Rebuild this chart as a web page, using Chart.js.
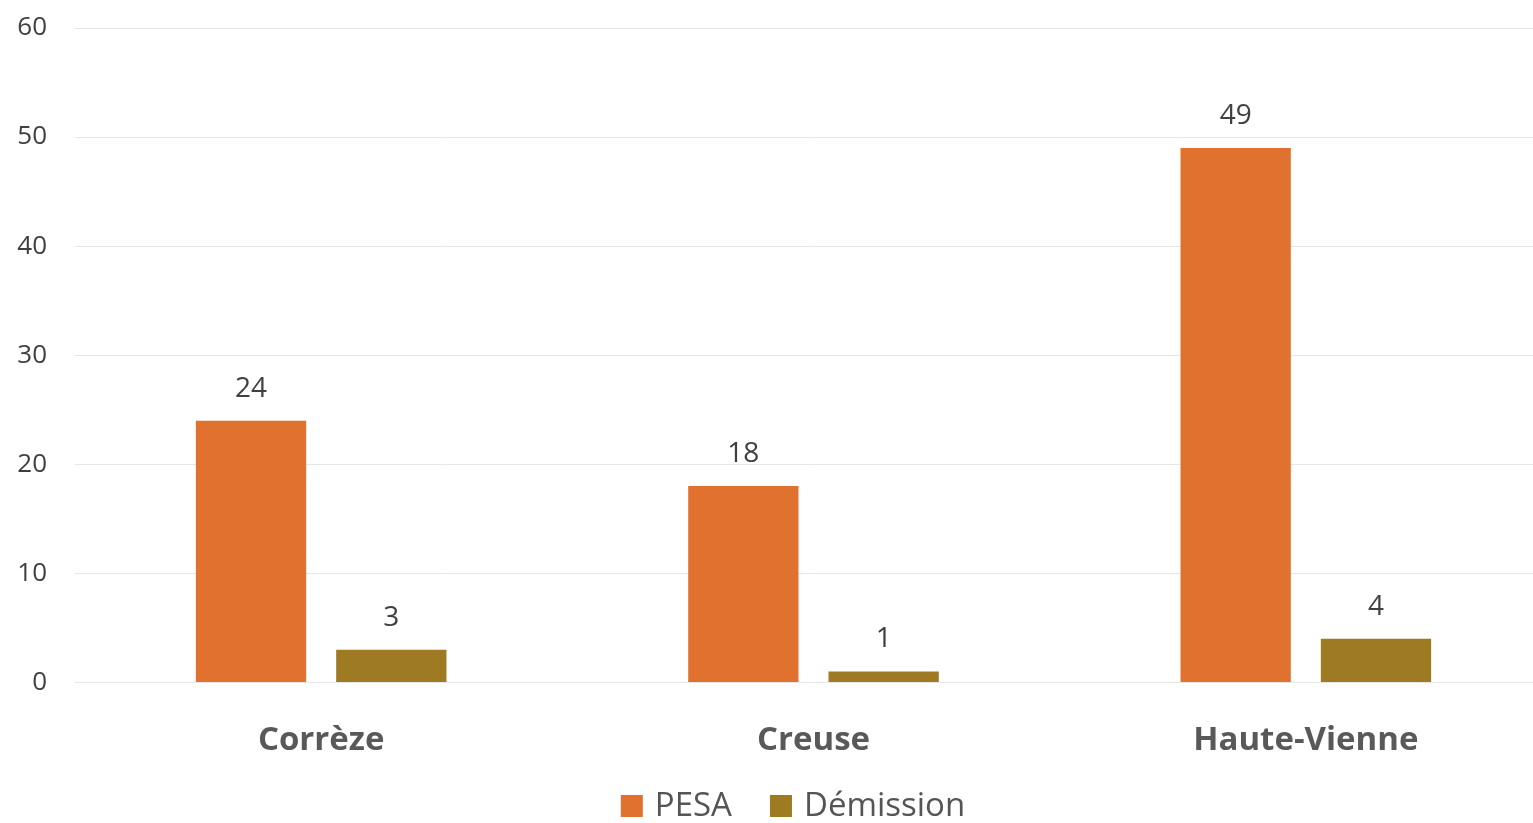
<!DOCTYPE html>
<html>
<head>
<meta charset="utf-8">
<script src="https://cdn.jsdelivr.net/npm/chart.js@4/dist/chart.umd.min.js"></script>
<style>
  html, body { margin: 0; padding: 0; background: #fff; overflow: hidden; }
  #wrap { width: 1552px; height: 823px; }
</style>
</head>
<body>
<div id="wrap"><canvas id="chart"></canvas></div>
<script>
// données
const categories = ['Corrèze', 'Creuse', 'Haute-Vienne'];
const pesaValues = [24, 18, 49];
const demissionValues = [3, 1, 4];
const yTicks = [0, 10, 20, 30, 40, 50, 60];

const FONT = "'Open Sans', 'Noto Sans', sans-serif";

// étiquettes de valeur au-dessus des barres
const valueLabels = {
    id: 'valueLabels',
    afterDatasetsDraw(chart) {
        const ctx = chart.ctx;
        ctx.save();
        ctx.font = `28px ${FONT}`;
        ctx.fillStyle = '#404040';
        ctx.textAlign = 'center';
        ctx.textBaseline = 'middle';
        chart.data.datasets.forEach((ds, i) => {
            chart.getDatasetMeta(i).data.forEach((bar, j) => {
                ctx.fillText(ds.data[j], bar.x, bar.y - 32);
            });
        });
        ctx.restore();
    }
};

// légende en bas, dessinée à la main
const bottomLegend = {
    id: 'bottomLegend',
    afterDraw(chart) {
        const ctx = chart.ctx;
        const box = 22, textGap = 12, itemGap = 38, y = 806;
        ctx.save();
        ctx.font = `33px ${FONT}`;
        ctx.textBaseline = 'middle';
        const items = chart.data.datasets.map(ds => ({
            label: ds.label, color: ds.backgroundColor,
            w: box + textGap + ctx.measureText(ds.label).width
        }));
        const total = items.reduce((a, it) => a + it.w, 0) + itemGap * (items.length - 1);
        let x = chart.width / 2 + 17 - total / 2;
        items.forEach(it => {
            ctx.fillStyle = it.color;
            ctx.fillRect(x, y - box / 2, box, box);
            ctx.fillStyle = '#555';
            ctx.fillText(it.label, x + box + textGap, y + 1);
            x += it.w + itemGap;
        });
        ctx.restore();
    }
};

new Chart(document.getElementById('chart'), {
    type: 'bar',
    data: {
        labels: categories,
        datasets: [
            { label: 'PESA', data: pesaValues, backgroundColor: '#E0712E' },
            { label: 'Démission', data: demissionValues, backgroundColor: '#9E7B22' }
        ]
    },
    options: {
        responsive: true,
        maintainAspectRatio: false,
        animation: false,
        categoryPercentage: 0.57,
        barPercentage: 0.786,
        layout: { padding: { top: 0, left: 15, right: 0, bottom: 33 } },
        plugins: {
            tooltip: { enabled: false },
            legend: { display: false }
        },
        scales: {
            x: {
                grid: { display: false },
                border: { display: false },
                ticks: {
                    font: { family: FONT, size: 33, weight: 'bold' },
                    color: '#595959',
                    padding: 30
                }
            },
            y: {
                min: 0,
                max: 60,
                afterBuildTicks: axis => { axis.ticks = yTicks.map(v => ({ value: v })); },
                afterFit: axis => {
                    axis.width = 60;
                    axis.paddingTop = 28;
                    axis.paddingBottom = 15;
                },
                grid: { color: '#e6e6e6', lineWidth: 1, drawTicks: false },
                border: { display: false },
                ticks: {
                    font: { family: FONT, size: 26 },
                    color: '#404040',
                    padding: 28
                }
            }
        }
    },
    plugins: [valueLabels, bottomLegend]
});
</script>
</body>
</html>
